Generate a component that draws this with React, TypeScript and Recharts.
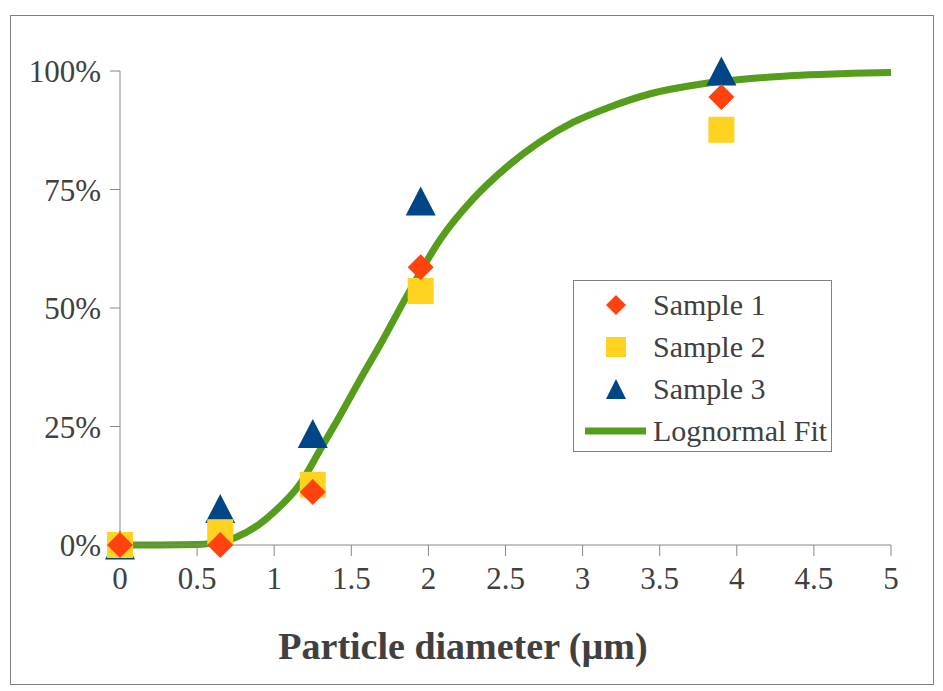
import React from 'react';
import {
  ComposedChart,
  Line,
  Scatter,
  XAxis,
  YAxis,
  Legend,
} from 'recharts';

// particle diameters (µm) of the measured samples
const sampleX = [0, 0.65, 1.25, 1.95, 3.9];
const sample1 = [0, 0, 11.2, 58.6, 94.5];
const sample2 = [0, 2.7, 12.7, 53.6, 87.6];
const sample3 = [0, 7.7, 23.5, 72.6, 100];

// lognormal fit
const fitX = [0, 0.25, 0.5, 0.6, 0.75, 0.9, 1.0, 1.17, 1.3, 1.43, 1.55, 1.7, 1.86, 2.08, 2.29, 2.51, 2.72, 2.94, 3.16, 3.44, 3.76, 4.09, 4.41, 4.75, 5];
const fitY = [0, 0, 0.1, 0.4, 1.6, 4.3, 7, 13, 20.2, 27.5, 34.5, 43, 52.5, 64.6, 73, 79.8, 85, 89.2, 92.2, 95.2, 97.2, 98.4, 99.1, 99.5, 99.7];

const xTicks = [0, 0.5, 1, 1.5, 2, 2.5, 3, 3.5, 4, 4.5, 5];
const yTicks = [0, 25, 50, 75, 100];

const seriesNames = ['Sample 1', 'Sample 2', 'Sample 3', 'Lognormal Fit'];

const RED = '#ff420e';
const YELLOW = '#ffd320';
const BLUE = '#004586';
const GREEN = '#579d1c';
const TEXT = '#404040';
const AXIS = '#888888';
const FONT = "'Liberation Serif', 'Times New Roman', serif";

const fitData = fitX.map((x, i) => ({ x, fit: fitY[i] }));
const toPoints = (ys: number[]) => sampleX.map((x, i) => ({ x, y: ys[i] }));

const Diamond = ({ cx, cy, s = 13 }: any) => (
  <path d={`M${cx},${cy - s}L${cx + s},${cy}L${cx},${cy + s}L${cx - s},${cy}Z`} fill={RED} />
);
const Square = ({ cx, cy, s = 13 }: any) => (
  <rect x={cx - s} y={cy - s} width={s * 2} height={s * 2} fill={YELLOW} />
);
const Triangle = ({ cx, cy, w = 15, h = 14.5 }: any) => (
  <path d={`M${cx},${cy - h}L${cx + w},${cy + h}L${cx - w},${cy + h}Z`} fill={BLUE} />
);

const LegendBox = () => {
  const row = (i: number, icon: React.ReactNode) => (
    <div key={i} style={{ position: 'relative', height: 42, lineHeight: '42px' }}>
      <svg width={80} height={42} style={{ position: 'absolute', left: 0, top: 0 }}>
        {icon}
      </svg>
      <span style={{ position: 'absolute', left: 79, top: 0, whiteSpace: 'nowrap' }}>{seriesNames[i]}</span>
    </div>
  );
  return (
    <div
      style={{
        width: 259,
        height: 172,
        border: '1px solid #808080',
        background: '#fff',
        boxSizing: 'border-box',
        paddingTop: 3,
        fontFamily: FONT,
        fontSize: 30,
        color: TEXT,
      }}
    >
      {row(0, <Diamond cx={42} cy={21} s={10} />)}
      {row(1, <Square cx={42} cy={21} s={10} />)}
      {row(2, <Triangle cx={42} cy={21} w={10} h={10} />)}
      {row(3, <line x1={11} x2={72} y1={21} y2={21} stroke={GREEN} strokeWidth={7} />)}
    </div>
  );
};

export default function App() {
  return (
    <div style={{ position: 'absolute', left: 0, top: 0, width: 943, height: 691, background: '#fff' }}>
      <div
        style={{
          position: 'absolute',
          left: 10,
          top: 15,
          width: 924,
          height: 670,
          border: '1px solid #808080',
          boxSizing: 'border-box',
        }}
      />
      <ComposedChart
        width={943}
        height={691}
        data={fitData}
        margin={{ top: 71, right: 52, bottom: 86, left: 20 }}
        style={{ position: 'absolute', left: 0, top: 0 }}
      >
        <XAxis
          dataKey="x"
          type="number"
          domain={[0, 5]}
          ticks={xTicks}
          height={60}
          stroke={AXIS}
          tickSize={11}
          tickMargin={11}
          tick={{ fill: TEXT, fontSize: 31, fontFamily: FONT }}
          label={{
            content: () => (
              <text
                x={463}
                y={659}
                textAnchor="middle"
                fill={TEXT}
                fontSize={38}
                fontWeight="bold"
                fontFamily={FONT}
              >
                Particle diameter (µm)
              </text>
            ),
          }}
        />
        <YAxis
          type="number"
          domain={[0, 100]}
          ticks={yTicks}
          width={100}
          stroke={AXIS}
          tickSize={10}
          tickMargin={9}
          tickFormatter={(v) => `${v}%`}
          tick={{ fill: TEXT, fontSize: 31, fontFamily: FONT }}
        />
        <Legend
          layout="horizontal"
          align="center"
          verticalAlign="middle"
          wrapperStyle={{ left: 573, top: 280, width: 'auto' }}
          content={() => <LegendBox />}
        />
        <Line
          type="monotone"
          dataKey="fit"
          name={seriesNames[3]}
          stroke={GREEN}
          strokeWidth={7}
          dot={false}
          activeDot={false}
          isAnimationActive={false}
        />
        <Scatter
          name={seriesNames[2]}
          data={toPoints(sample3)}
          dataKey="y"
          shape={(p: any) => <Triangle cx={p.cx} cy={p.cy} />}
          isAnimationActive={false}
        />
        <Scatter
          name={seriesNames[1]}
          data={toPoints(sample2)}
          dataKey="y"
          shape={(p: any) => <Square cx={p.cx} cy={p.cy} />}
          isAnimationActive={false}
        />
        <Scatter
          name={seriesNames[0]}
          data={toPoints(sample1)}
          dataKey="y"
          shape={(p: any) => <Diamond cx={p.cx} cy={p.cy} />}
          isAnimationActive={false}
        />
      </ComposedChart>
    </div>
  );
}
